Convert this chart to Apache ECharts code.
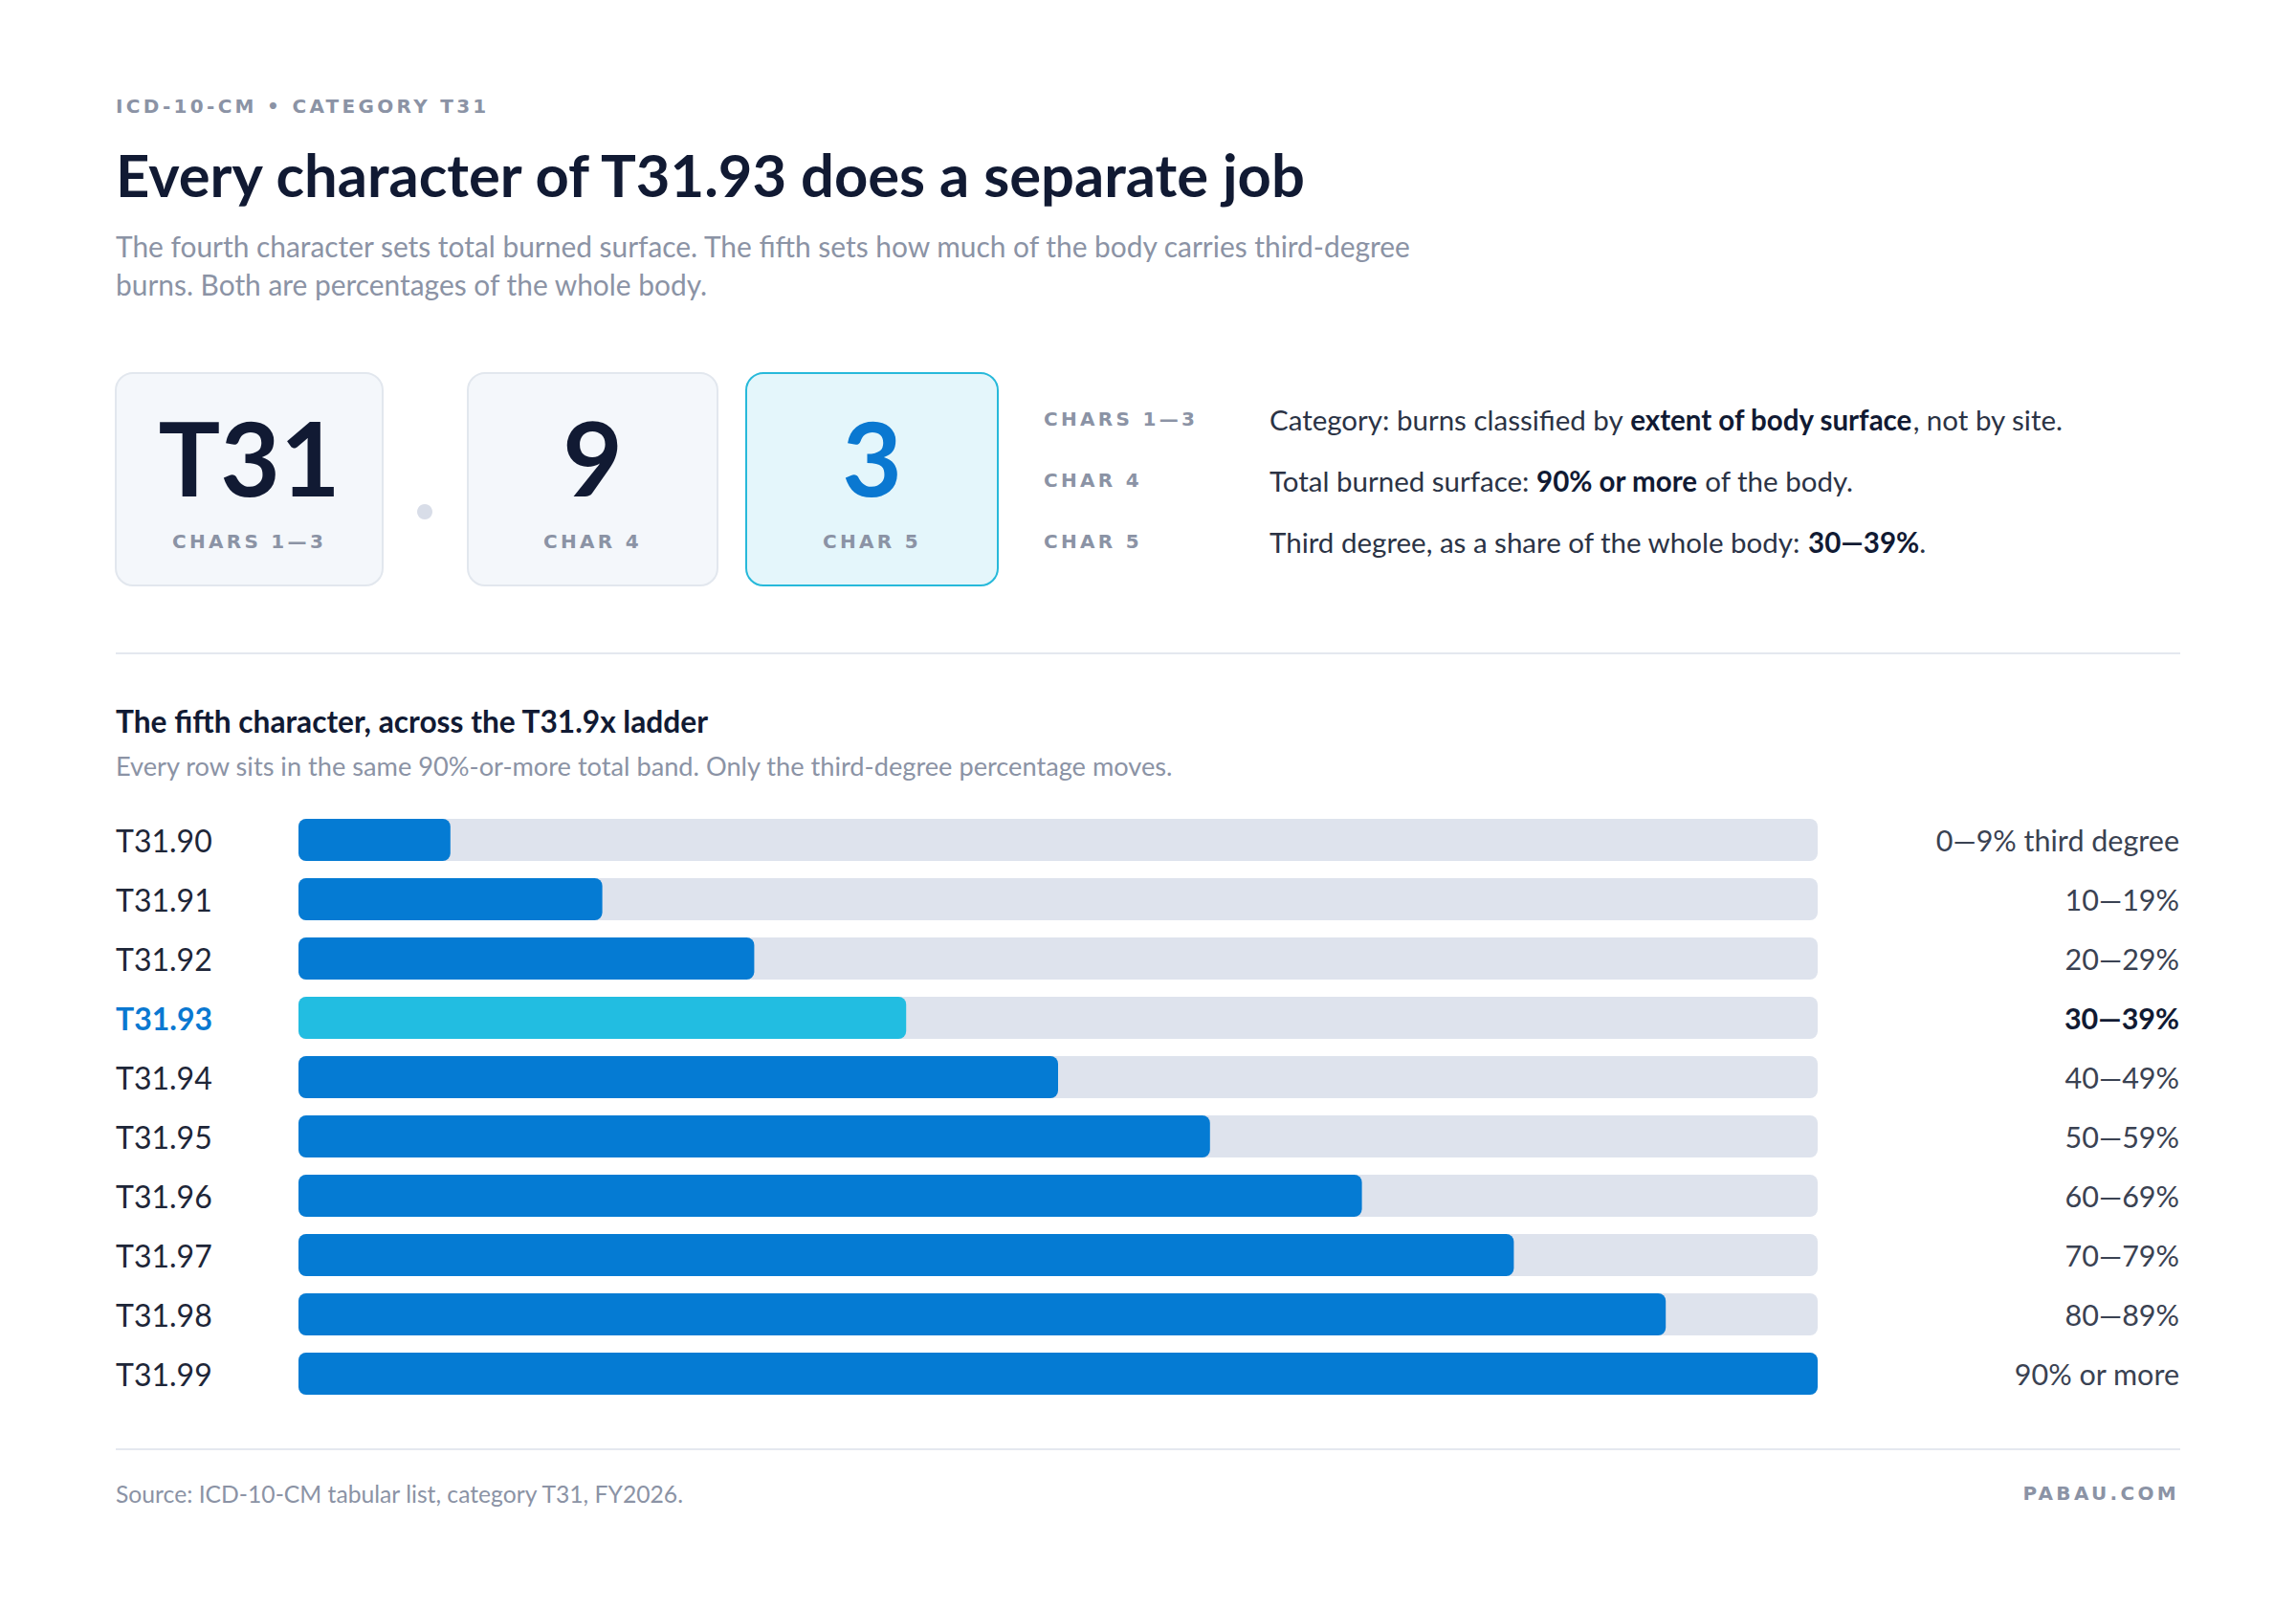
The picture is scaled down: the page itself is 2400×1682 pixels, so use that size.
<!DOCTYPE html>
<html><head>
<meta charset="UTF-8">
<title>T31.93</title>
<script src="https://cdn.jsdelivr.net/npm/echarts@6/dist/echarts.min.js"></script>
<style>
html,body{margin:0;padding:0;background:#fff;}
#main{width:2400px;height:1682px;}
</style>
</head>
<body>
<div id="main"></div>
<script>
// ladder data
var codes = ['T31.90','T31.91','T31.92','T31.93','T31.94','T31.95','T31.96','T31.97','T31.98','T31.99'];
var thirdDegreeTop = [10, 20, 30, 40, 50, 60, 70, 80, 90, 100];
var rangeLabels = ['0\u20149% third degree','10\u201419%','20\u201429%','30\u201439%','40\u201449%','50\u201459%','60\u201469%','70\u201479%','80\u201489%','90% or more'];
var highlightCode = 'T31.93';

// code parts shown in the boxes
var parts = ['T31','9','3'];
var partLabels = ['CHARS 1\u20143','CHAR 4','CHAR 5'];

var FONT = 'Lato, "Noto Sans", sans-serif';
var CAPS = '"DejaVu Sans", sans-serif';
var NAVY = '#111a33';
var GRAY = '#8b93a5';
var BLUE = '#057bd3';
var CYAN = '#22bde1';
var TRACK = '#dee3ed';

var hlIndex = codes.indexOf(highlightCode);
var spaced = []; // caps texts that get letter spacing

function txt(x, y, text, size, color, weight, font, align) {
	return {type:'text', x:x, y:y, style:{
		text:text, fontSize:size, fill:color, fontWeight:weight||'normal',
		fontFamily:font||FONT, align:align||'left', verticalAlign:'middle'}};
}
function caps(x, y, text, size, align) {
	spaced.push(text);
	return txt(x, y, text, size, GRAY, 'bold', CAPS, align);
}

var graphics = [];
graphics.push(caps(121, 111, 'ICD-10-CM \u2022 CATEGORY T31', 20));
graphics.push(txt(121, 182, 'Every character of T31.93 does a separate job', 61.5, NAVY, 'bold'));
graphics.push(txt(121, 257, 'The fourth character sets total burned surface. The fifth sets how much of the body carries third-degree', 29.9, GRAY));
graphics.push(txt(121, 297, 'burns. Both are percentages of the whole body.', 29.9, GRAY));

// boxes
var boxes = [[121, 279], [489, 261], [780, 263]];
for (var i = 0; i < boxes.length; i++) {
	var hl = i == 2;
	graphics.push({type:'rect', shape:{x:boxes[i][0], y:390, width:boxes[i][1], height:222, r:18},
		style:{fill: hl ? '#e4f6fb' : '#f4f7fb', stroke: hl ? '#27b9da' : '#e2e7ee', lineWidth:2}});
	var cx = boxes[i][0] + boxes[i][1] / 2;
	graphics.push(txt(cx, 477, parts[i], 108, hl ? '#0a78d1' : NAVY, 'bold', FONT, 'center'));
	graphics.push(caps(cx, 566, partLabels[i], 20, 'center'));
}
graphics.push({type:'circle', shape:{cx:444, cy:535, r:8}, style:{fill:'#d8dde8'}});

// legend of characters
var rowY = [438, 502, 566];
var descRich = {
	r:{fontSize:29.5, fill:'#2b3345', fontFamily:FONT},
	b:{fontSize:29.5, fill:NAVY, fontFamily:FONT, fontWeight:'bold'}
};
var descs = [
	'{r|Category: burns classified by }{b|extent of body surface}{r|, not by site.}',
	'{r|Total burned surface: }{b|90% or more}{r| of the body.}',
	'{r|Third degree, as a share of the whole body: }{b|30\u201439%}{r|.}'
];
for (var k = 0; k < 3; k++) {
	graphics.push(caps(1091, rowY[k], partLabels[k], 20));
	graphics.push({type:'text', x:1327, y:rowY[k], style:{text:descs[k], rich:descRich, verticalAlign:'middle'}});
}

graphics.push({type:'rect', shape:{x:121, y:682, width:2158, height:2}, style:{fill:'#e4e8ef'}});
graphics.push(txt(121, 754, 'The fifth character, across the T31.9x ladder', 31.7, NAVY, 'bold'));
graphics.push(txt(121, 800, 'Every row sits in the same 90%-or-more total band. Only the third-degree percentage moves.', 27.2, GRAY));

graphics.push({type:'rect', shape:{x:121, y:1514, width:2158, height:2}, style:{fill:'#e4e8ef'}});
graphics.push(txt(121, 1561, 'Source: ICD-10-CM tabular list, category T31, FY2026.', 24.7, GRAY));
graphics.push(caps(2278, 1561, 'PABAU.COM', 20, 'right'));

var barData = [];
for (var j = 0; j < thirdDegreeTop.length; j++) {
	barData.push({value: thirdDegreeTop[j], itemStyle: {color: j == hlIndex ? CYAN : BLUE}});
}

var chart = echarts.init(document.getElementById('main'), null, {renderer:'svg'});
chart.setOption({
	backgroundColor:'#fff',
	animation:false,
	graphic: graphics,
	grid: {left:312, right:500, top:847, height:620, containLabel:false},
	xAxis: {type:'value', min:0, max:100, show:false},
	yAxis: [{
		type:'category', data:codes, inverse:true,
		axisLine:{show:false}, axisTick:{show:false}, splitLine:{show:false},
		axisLabel:{margin:191, align:'left',
			formatter:function(v){ return v == highlightCode ? '{h|' + v + '}' : '{n|' + v + '}'; },
			rich:{
				n:{fontSize:32, color:'#1e2638', fontFamily:FONT},
				h:{fontSize:32, color:'#0a78d1', fontFamily:FONT, fontWeight:'bold'}
			}}
	}, {
		type:'category', data:rangeLabels, inverse:true, position:'right',
		axisLine:{show:false}, axisTick:{show:false}, splitLine:{show:false},
		axisLabel:{margin:378, align:'right',
			formatter:function(v, idx){ return idx == hlIndex ? '{h|' + v + '}' : '{n|' + v + '}'; },
			rich:{
				n:{fontSize:30.5, color:'#3a4252', fontFamily:FONT},
				h:{fontSize:30.5, color:NAVY, fontFamily:FONT, fontWeight:'bold'}
			}}
	}],
	series: [{
		type:'bar', data:barData, barWidth:44, yAxisIndex:0,
		showBackground:true,
		backgroundStyle:{color:TRACK, borderRadius:8},
		itemStyle:{borderRadius:8}
	}]
});

// small caps labels are tracked out
function trackCaps() {
	var nodes = document.querySelectorAll('#main svg text');
	for (var n = 0; n < nodes.length; n++) {
		if (spaced.indexOf(nodes[n].textContent) >= 0) {
			nodes[n].setAttribute('letter-spacing', '3.3');
		}
	}
}
trackCaps();
chart.on('finished', trackCaps);
</script>
</body>
</html>
